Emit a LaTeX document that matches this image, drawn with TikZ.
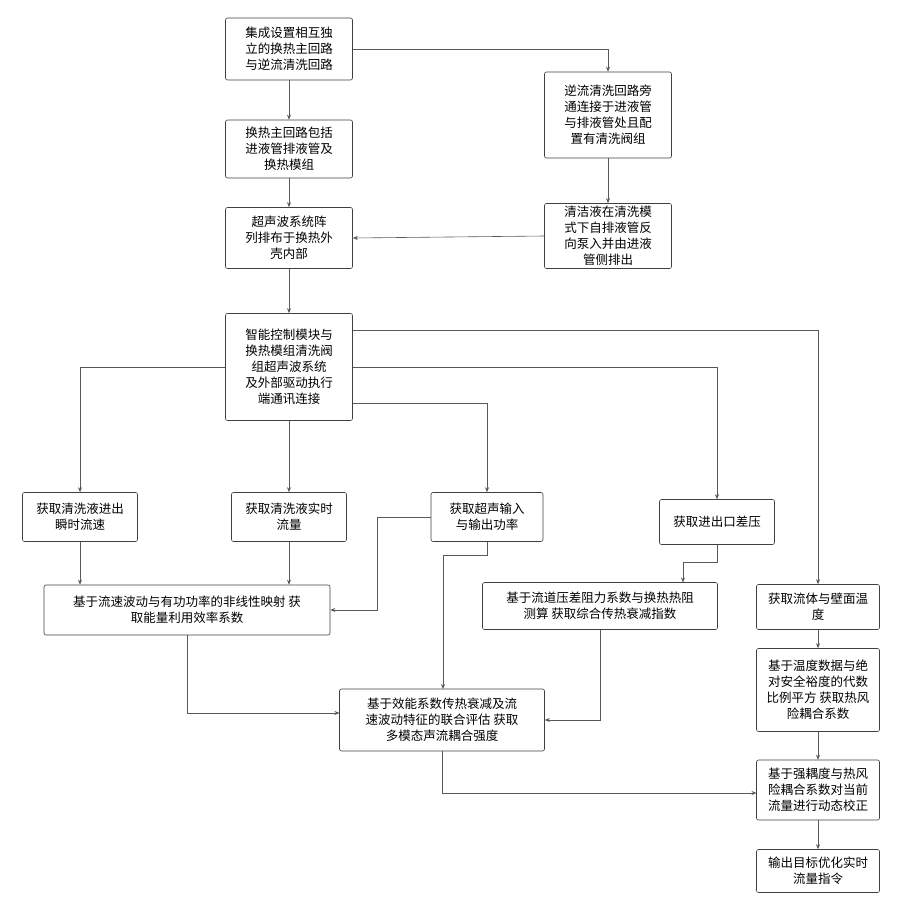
\documentclass[tikz,border=0pt]{standalone}
\usepackage{fontspec}
\newfontfamily\cjk{Noto Sans CJK SC}
\usetikzlibrary{arrows.meta}
\begin{document}
\begin{tikzpicture}[x=1pt,y=-1pt,
 box/.style={draw=black!75,rounded corners=2pt,line width=0.6pt,align=center,font=\cjk\fontsize{12.5}{16}\selectfont,inner sep=2pt,fill=white},
 ln/.style={draw=black!65,line width=0.6pt,-{Stealth[length=5pt,width=4pt]}}]
\useasboundingbox (0,0) rectangle (917,908);
\node[box,minimum width=127,minimum height=62] (b1) at (289,49) {集成设置相互独\\立的换热主回路\\与逆流清洗回路};
\node[box,minimum width=127,minimum height=58] (b2) at (289,149) {换热主回路包括\\进液管排液管及\\换热模组};
\node[box,minimum width=127,minimum height=61] (b3) at (289,238) {超声波系统阵\\列排布于换热外\\壳内部};
\node[box,minimum width=127,minimum height=86] (b4) at (608,115) {逆流清洗回路旁\\通连接于进液管\\与排液管处且配\\置有清洗阀组};
\node[box,minimum width=127,minimum height=65] (b5) at (608,236) {清洁液在清洗模\\式下自排液管反\\向泵入并由进液\\管侧排出};
\node[box,minimum width=127,minimum height=107] (b6) at (289,367) {智能控制模块与\\换热模组清洗阀\\组超声波系统\\及外部驱动执行\\端通讯连接};
\node[box,minimum width=115,minimum height=49] (b7) at (80,517) {获取清洗液进出\\瞬时流速};
\node[box,minimum width=115,minimum height=49] (b8) at (289,517) {获取清洗液实时\\流量};
\node[box,minimum width=112,minimum height=49] (b9) at (487,517) {获取超声输入\\与输出功率};
\node[box,minimum width=115,minimum height=45] (b10) at (717,522) {获取进出口差压};
\node[box,minimum width=123,minimum height=45] (b11) at (818,607) {获取流体与壁面温\\度};
\node[box,minimum width=286,minimum height=50] (b12) at (187,610) {基于流速波动与有功功率的非线性映射 获\\取能量利用效率系数};
\node[box,minimum width=235,minimum height=47] (b13) at (600,606) {基于流道压差阻力系数与换热热阻\\测算 获取综合传热衰减指数};
\node[box,minimum width=205,minimum height=62] (b14) at (442,720) {基于效能系数传热衰减及流\\速波动特征的联合评估 获取\\多模态声流耦合强度};
\node[box,minimum width=123,minimum height=83] (b15) at (818,690) {基于温度数据与绝\\对安全裕度的代数\\比例平方 获取热风\\险耦合系数};
\node[box,minimum width=123,minimum height=60] (b16) at (818,790) {基于强耦度与热风\\险耦合系数对当前\\流量进行动态校正};
\node[box,minimum width=123,minimum height=43] (b17) at (818,871) {输出目标优化实时\\流量指令};
\draw[ln] (b1) -- (b2);
\draw[ln] (b1.east) -- (608,49) -- (b4.north);
\draw[ln] (b2) -- (b3);
\draw[ln] (b4) -- (b5);
\draw[ln] (b5.west) -- (b3.east);
\draw[ln] (b6.east |- 0,330) -- (818,330) -- (b11.north);
\draw[ln] (b3) -- (b6);
\draw[ln] (b6.west) -- (80,367) -- (b7.north);
\draw[ln] (b6.east) -- (717,367) -- (b10.north);
\draw[ln] (b6) -- (b8);
\draw[ln] (b6.east |- 0,403) -- (487,403) -- (b9.north);
\draw[ln] (b7) -- (b7 |- b12.north);
\draw[ln] (b8) -- (b8 |- b12.north);
\draw[ln] (b9.west) -- (377,517) -- (377,610) -- (b12.east);
\draw[ln] (b9.south) -- (487,555) -- (443,555) -- (443,689);
\draw[ln] (b10.south) -- (717,562) -- (683,562) -- (683,582.5);
\draw[ln] (600,629.5) -- (600,720) -- (b14.east);
\draw[ln] (187,635) -- (187,713) -- (339.5,713);
\draw[ln] (442,751) -- (442,793) -- (756.5,793);
\draw[ln] (b11) -- (b15);
\draw[ln] (b15) -- (b16);
\draw[ln] (b16) -- (b17);
\end{tikzpicture}
\end{document}
